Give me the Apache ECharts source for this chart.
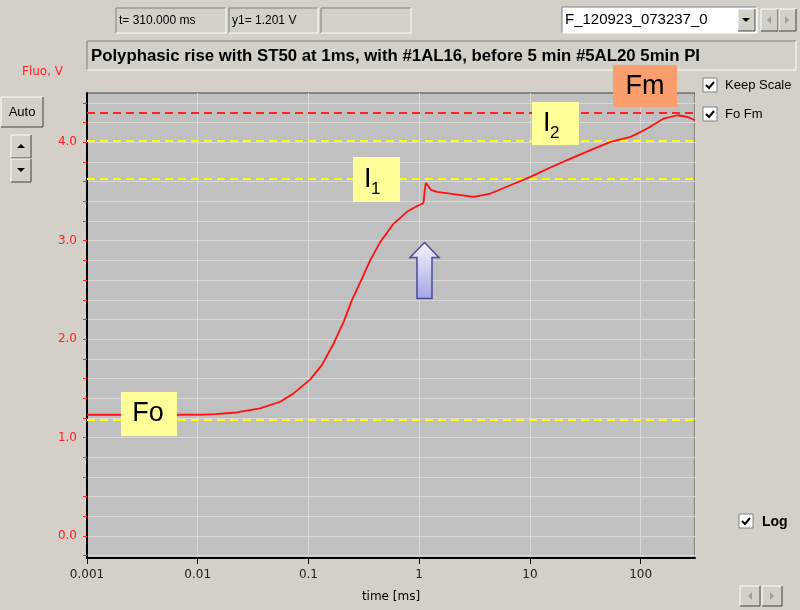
<!DOCTYPE html>
<html>
<head>
<meta charset="utf-8">
<script src="https://cdn.jsdelivr.net/npm/echarts@6/dist/echarts.min.js"></script>
<style>
html,body{margin:0;padding:0;background:#d4d0c8;}
#chart{width:800px;height:610px;}
</style>
</head>
<body>
<div id="chart"></div>
<script>
// ---- data ----
const timesMs = [0.001, 0.004, 0.0069, 0.0115, 0.0144, 0.0225, 0.0366, 0.0556, 0.0735, 0.104, 0.132, 0.169, 0.208, 0.247, 0.305, 0.362, 0.446, 0.589, 0.776, 0.95, 1.08, 1.10, 1.12, 1.15, 1.20, 1.28, 1.45, 2.05, 3.11, 4.4, 6.68, 10.1, 15.3, 23.3, 35.3, 53.5, 81.3, 115, 162, 215, 264, 310];
const fluoV   = [1.232, 1.232, 1.232, 1.234, 1.238, 1.255, 1.296, 1.364, 1.449, 1.591, 1.736, 1.956, 2.176, 2.396, 2.616, 2.802, 2.988, 3.174, 3.293, 3.350, 3.378, 3.400, 3.500, 3.586, 3.560, 3.515, 3.496, 3.472, 3.445, 3.479, 3.563, 3.648, 3.743, 3.834, 3.919, 4.003, 4.054, 4.139, 4.240, 4.274, 4.257, 4.223];
const yLabelValues = [0, 1, 2, 3, 4];
const yTickValues = [-0.2, 0, 0.2, 0.4, 0.6, 0.8, 1.0, 1.2, 1.4, 1.6, 1.8, 2.0, 2.2, 2.4, 2.6, 2.8, 3.0, 3.2, 3.4, 3.6, 3.8, 4.0, 4.2, 4.4];
const fmLevel = 4.30;
const yellowLevels = [4.01, 3.635, 1.18];
const titleText = 'Polyphasic rise with ST50 at 1ms, with #1AL16, before 5 min #5AL20 5min PI';
const tText = 't= 310.000 ms';
const y1Text = 'y1= 1.201 V';
const fileText = 'F_120923_073237_0';

const seriesData = timesMs.map((t, i) => [t, fluoV[i]]);

function sunken(x, y, w, h, fill) {
  return [
    {type:'rect', shape:{x:x, y:y, width:w, height:h}, style:{fill:fill || '#d4d0c8', stroke:null}, z:50},
    {type:'polyline', shape:{points:[[x, y+h],[x, y],[x+w, y]]}, style:{stroke:'#808080', lineWidth:1, fill:null}, z:51},
    {type:'polyline', shape:{points:[[x+w, y],[x+w, y+h],[x, y+h]]}, style:{stroke:'#ffffff', lineWidth:1, fill:null}, z:51}
  ];
}
function raised(x, y, w, h) {
  return [
    {type:'rect', shape:{x:x, y:y, width:w, height:h}, style:{fill:'#d4d0c8', stroke:null}, z:50},
    {type:'polyline', shape:{points:[[x, y+h],[x, y],[x+w, y]]}, style:{stroke:'#ffffff', lineWidth:1, fill:null}, z:51},
    {type:'polyline', shape:{points:[[x+w, y],[x+w, y+h],[x, y+h]]}, style:{stroke:'#404040', lineWidth:1, fill:null}, z:51}
  ];
}
function txt(x, y, s, font, fill, align, z) {
  return {type:'text', x:x, y:y, z:z || 60, style:{text:s, font:font, fill:fill || '#000', align:align || 'left', textAlign:align || 'left', verticalAlign:'middle', textVerticalAlign:'middle'}};
}
function checkbox(x, y) {
  return [
    {type:'rect', shape:{x:x, y:y, width:14, height:14}, style:{fill:'#ffffff', stroke:'#808080', lineWidth:1}, z:50},
    {type:'polyline', shape:{points:[[x+3, y+7],[x+6, y+10],[x+11, y+4]]}, style:{stroke:'#000', lineWidth:2, fill:null}, z:51}
  ];
}
function tri(cx, cy, up, color) {
  const pts = up ? [[cx-4, cy+2],[cx+4, cy+2],[cx, cy-2]] : [[cx-4, cy-2],[cx+4, cy-2],[cx, cy+2]];
  return {type:'polygon', shape:{points:pts}, style:{fill:color || '#000'}, z:60};
}
function sideTri(cx, cy, right, color) {
  const pts = right ? [[cx-2, cy-4],[cx-2, cy+4],[cx+2, cy]] : [[cx+2, cy-4],[cx+2, cy+4],[cx-2, cy]];
  return {type:'polygon', shape:{points:pts}, style:{fill:color || '#000'}, z:60};
}

const uiFont = '12px "Liberation Sans", Arial, sans-serif';
const bigFont = '27px "Liberation Sans", Arial, sans-serif';
const subFont = '17px "Liberation Sans", Arial, sans-serif';
let graphics = [];
// top boxes
graphics = graphics.concat(sunken(116, 8, 110, 25));
graphics.push(txt(119, 21, tText, uiFont));
graphics = graphics.concat(sunken(229, 8, 89, 25));
graphics.push(txt(232, 21, y1Text, uiFont));
graphics = graphics.concat(sunken(321, 8, 90, 25));
// file combo
graphics = graphics.concat(sunken(562, 7, 195, 26, '#ffffff'));
graphics.push(txt(565, 20, fileText, '15px "Liberation Sans", Arial, sans-serif'));
graphics = graphics.concat(raised(738, 9, 17, 22));
graphics.push(tri(746, 20, false));
graphics = graphics.concat(raised(761, 9, 17, 22));
graphics.push(sideTri(769, 20, false, '#a0a0a0'));
graphics = graphics.concat(raised(779, 9, 17, 22));
graphics.push(sideTri(787, 20, true, '#a0a0a0'));
// title box
graphics = graphics.concat(sunken(87, 41, 709, 29));
graphics.push(txt(91, 56, titleText, 'bold 16.8px "Liberation Sans", Arial, sans-serif'));
// y name
graphics.push(txt(22, 72, 'Fluo, V', '12px "DejaVu Sans", sans-serif', '#ff2020'));
// Auto + up/down
graphics = graphics.concat(raised(1, 97, 42, 30));
graphics.push(txt(22, 112, 'Auto', '13px "Liberation Sans", Arial, sans-serif', '#000', 'center'));
graphics = graphics.concat(raised(11, 135, 20, 23));
graphics.push(tri(21, 146, true));
graphics = graphics.concat(raised(11, 159, 20, 23));
graphics.push(tri(21, 170, false));
// checkboxes
graphics = graphics.concat(checkbox(703, 78));
graphics.push(txt(725, 85, 'Keep Scale', '13px "Liberation Sans", Arial, sans-serif'));
graphics = graphics.concat(checkbox(703, 107));
graphics.push(txt(725, 114, 'Fo Fm', '13px "Liberation Sans", Arial, sans-serif'));
graphics = graphics.concat(checkbox(739, 514));
graphics.push(txt(762, 522, 'Log', 'bold 14px "Liberation Sans", Arial, sans-serif'));
// bottom nav
graphics = graphics.concat(raised(740, 586, 20, 20));
graphics.push(sideTri(750, 596, false, '#a0a0a0'));
graphics = graphics.concat(raised(762, 586, 20, 20));
graphics.push(sideTri(772, 596, true, '#a0a0a0'));
// annotation boxes
graphics.push({type:'rect', shape:{x:121, y:392, width:56, height:44}, style:{fill:'#ffff99'}, z:70});
graphics.push(txt(148, 414, 'Fo', bigFont, '#000', 'center', 80));
graphics.push({type:'rect', shape:{x:353, y:157, width:47, height:45}, style:{fill:'#ffff99'}, z:70});
graphics.push(txt(364, 180, 'I', bigFont, '#000', 'left', 80));
graphics.push(txt(371, 189, '1', subFont, '#000', 'left', 80));
graphics.push({type:'rect', shape:{x:532, y:102, width:47, height:43}, style:{fill:'#ffff99'}, z:70});
graphics.push(txt(543, 124, 'I', bigFont, '#000', 'left', 80));
graphics.push(txt(550, 133, '2', subFont, '#000', 'left', 80));
graphics.push({type:'rect', shape:{x:613, y:65, width:64, height:42}, style:{fill:'#fa9e6e'}, z:70});
graphics.push(txt(645, 87, 'Fm', bigFont, '#000', 'center', 80));
// arrow
graphics.push({type:'polygon', z:80,
  shape:{points:[[424.5,242.5],[439,257.5],[432,257.5],[432,298.5],[417,298.5],[417,257.5],[410,257.5]]},
  style:{fill:{type:'linear', x:0, y:0, x2:0, y2:1, colorStops:[{offset:0, color:'#f4f4ff'},{offset:1, color:'#a4a4e6'}]}, stroke:'#4b4b98', lineWidth:1.5}});

const chart = echarts.init(document.getElementById('chart'), null, {renderer:'canvas'});
chart.setOption({
  backgroundColor:'#d4d0c8',
  animation:false,
  grid:{left:87, right:105, top:93, bottom:52, show:true, backgroundColor:'#c0c0c0', borderColor:'#404040', borderWidth:1},
  xAxis:{
    type:'log', logBase:10, min:0.001, max:310,
    name:'time [ms]', nameLocation:'middle', nameGap:33,
    nameTextStyle:{color:'#000', fontSize:12, fontFamily:'"DejaVu Sans", sans-serif'},
    axisLine:{show:true, onZero:false, lineStyle:{color:'#000', width:2}},
    axisTick:{show:true, length:6, lineStyle:{color:'#000', width:1}},
    axisLabel:{color:'#222', fontSize:12, fontFamily:'"DejaVu Sans", sans-serif', margin:11, showMaxLabel:false},
    splitLine:{show:true, lineStyle:{color:'#d8d8d8', width:1}},
    minorTick:{show:false}, minorSplitLine:{show:false}
  },
  yAxis:{
    type:'value', min:-0.223, max:4.5,
    axisLine:{show:true, onZero:false, lineStyle:{color:'#000', width:2}},
    axisTick:{show:true, length:4, customValues:yTickValues, lineStyle:{color:'#ff2020', width:1}},
    axisLabel:{customValues:yLabelValues, formatter:v => v.toFixed(1), color:'#ff2020', fontSize:12, fontFamily:'"DejaVu Sans", sans-serif', margin:10},
    splitLine:{show:true, lineStyle:{color:'#d8d8d8', width:1}}
  },
  series:[{
    type:'line', data:seriesData, showSymbol:false, symbol:'none',
    lineStyle:{color:'#ff1010', width:1.8}, z:5,
    markLine:{
      silent:true, symbol:'none', label:{show:false},
      data:[
        {yAxis:fmLevel, lineStyle:{color:'#ff2020', width:2, type:[8,5]}},
        ...yellowLevels.map(v => ({yAxis:v, lineStyle:{color:'#ffff00', width:2, type:[8,5]}}))
      ]
    }
  }],
  graphic:{elements:graphics}
});
</script>
</body>
</html>
